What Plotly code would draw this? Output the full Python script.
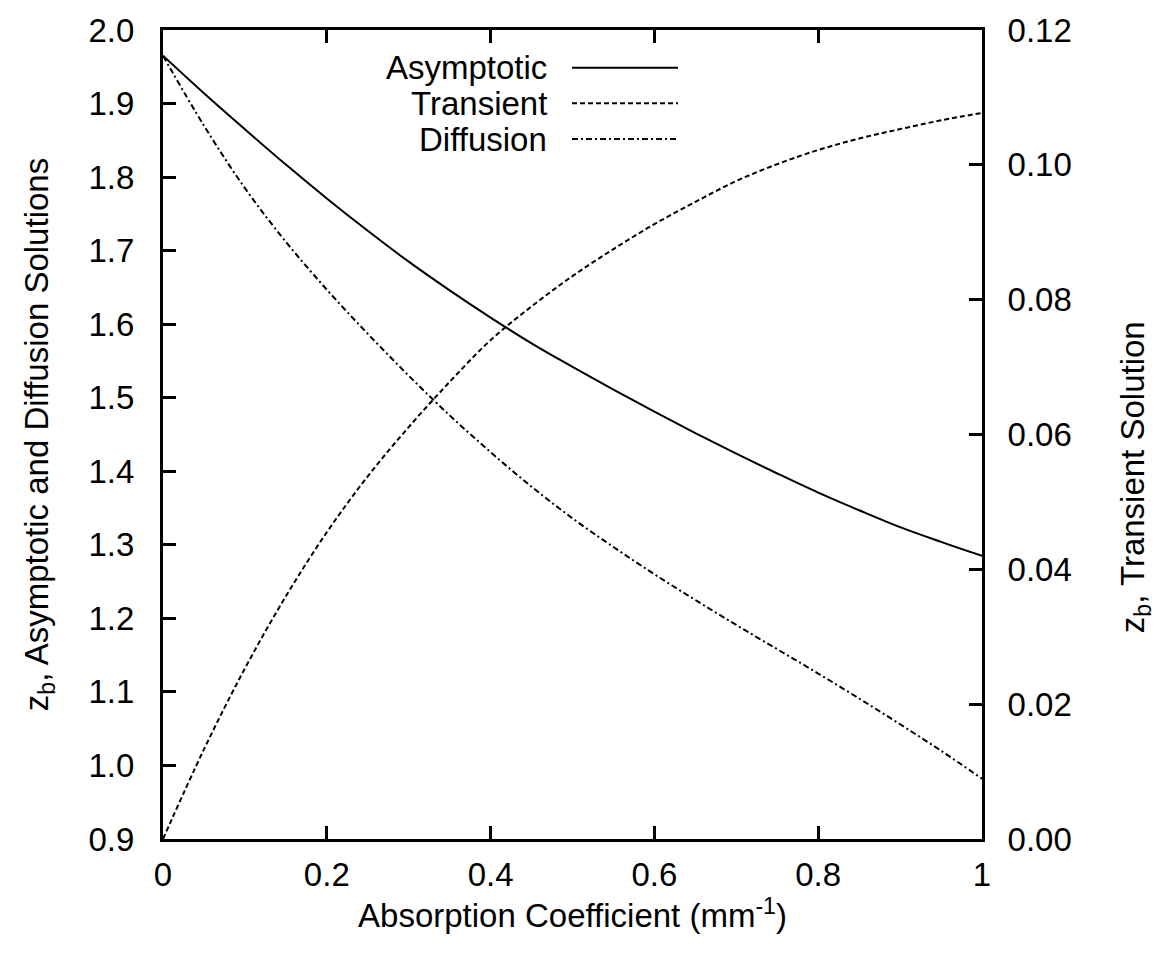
import plotly.graph_objects as go

# ---- data ----
absorption = [0.0, 0.05, 0.1, 0.15, 0.2, 0.25, 0.3, 0.35, 0.4, 0.45, 0.5,
              0.55, 0.6, 0.65, 0.7, 0.75, 0.8, 0.85, 0.9, 0.95, 1.0]

asymptotic = [1.965, 1.914, 1.865, 1.817, 1.771, 1.727, 1.685, 1.646, 1.609, 1.574, 1.542,
              1.511, 1.481, 1.452, 1.424, 1.397, 1.371, 1.347, 1.324, 1.304, 1.285]

diffusion = [1.965, 1.870, 1.785, 1.712, 1.647, 1.587, 1.530, 1.476, 1.426, 1.379, 1.336,
             1.297, 1.260, 1.225, 1.191, 1.158, 1.125, 1.091, 1.056, 1.020, 0.982]

transient = [0.0, 0.0133, 0.0253, 0.0360, 0.0455, 0.0538, 0.0611, 0.0678, 0.0740, 0.0790, 0.0835,
             0.0875, 0.0912, 0.0945, 0.0976, 0.1001, 0.1022, 0.1039, 0.1053, 0.1066, 0.1077]

x_ticks = [0, 0.2, 0.4, 0.6, 0.8, 1.0]
x_ticktext = ["0", "0.2", "0.4", "0.6", "0.8", "1"]
y_ticks = [0.9, 1.0, 1.1, 1.2, 1.3, 1.4, 1.5, 1.6, 1.7, 1.8, 1.9, 2.0]
y2_ticks = [0.0, 0.02, 0.04, 0.06, 0.08, 0.10, 0.12]

legend_names = ["Asymptotic", "Transient", "Diffusion"]
legend_dash = ["solid", "5px,3px", "6px,3px,2px,3px"]

FONT = "Liberation Sans"
FS = 33

fig = go.Figure()
fig.add_trace(go.Scatter(x=absorption, y=asymptotic, mode="lines", name="Asymptotic",
                         line=dict(color="black", width=2, dash=legend_dash[0], shape="spline"),
                         showlegend=False))
fig.add_trace(go.Scatter(x=absorption, y=transient, mode="lines", name="Transient", yaxis="y2",
                         line=dict(color="black", width=2, dash=legend_dash[1], shape="spline"),
                         showlegend=False))
fig.add_trace(go.Scatter(x=absorption, y=diffusion, mode="lines", name="Diffusion",
                         line=dict(color="black", width=2, dash=legend_dash[2], shape="spline"),
                         showlegend=False))

W, H = 1165, 962
L, R, T, B = 163, 183, 23, 123
pw, ph = W - L - R, H - T - B

def px(xp):
    return (xp - L) / pw

def py(yp):
    return 1 - (yp - T) / ph

# custom legend (text right-aligned, sample line on its right)
leg_y = [61, 97, 133]
for name, dash, yy in zip(legend_names, legend_dash, leg_y):
    fig.add_annotation(x=px(549), y=py(yy), xref="paper", yref="paper", text=name,
                       showarrow=False, xanchor="right", yanchor="middle",
                       font=dict(family=FONT, size=FS, color="black"))
    fig.add_shape(type="line", xref="paper", yref="paper",
                  x0=px(572), x1=px(678), y0=py(yy), y1=py(yy),
                  line=dict(color="black", width=2, dash=dash))

# right axis title placed as in the reference (slightly below centre)
fig.add_annotation(x=px(1135), y=py(474), xref="paper", yref="paper",
                   text="z<sub>b</sub>, Transient Solution", textangle=-90,
                   showarrow=False, xanchor="center", yanchor="middle",
                   font=dict(family=FONT, size=FS, color="black"))

axis_common = dict(showgrid=False, zeroline=False, showline=True, linecolor="black",
                   linewidth=3, ticks="inside", ticklen=13, tickwidth=3, tickcolor="black",
                   tickfont=dict(family=FONT, size=FS, color="black"))

fig.update_layout(
    width=W, height=H,
    margin=dict(l=L, r=R, t=T, b=B),
    paper_bgcolor="white", plot_bgcolor="white",
    font=dict(family=FONT, size=FS, color="black"),
    xaxis=dict(range=[0, 1], tickvals=x_ticks, ticktext=x_ticktext, mirror="ticks",
               title=dict(text="Absorption Coefficient (mm<sup>-1</sup>)", standoff=2,
                          font=dict(family=FONT, size=FS, color="black")),
               ticklabelstandoff=4, **axis_common),
    yaxis=dict(range=[0.9, 2.0], tickvals=y_ticks, tickformat=".1f",
               title=dict(text="z<sub>b</sub>, Asymptotic and Diffusion Solutions", standoff=30,
                          font=dict(family=FONT, size=FS, color="black")),
               ticklabelstandoff=19, **axis_common),
    yaxis2=dict(range=[0, 0.12], tickvals=y2_ticks, tickformat=".2f", overlaying="y",
                side="right", ticklabelstandoff=16, **axis_common),
)

fig.write_html("out.html")
